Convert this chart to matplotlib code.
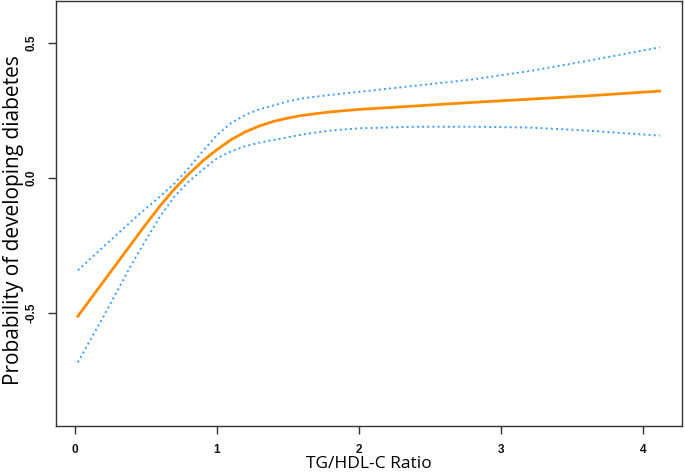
import matplotlib
matplotlib.use("Agg")
import matplotlib.pyplot as plt

# data (TG/HDL-C ratio vs. probability)
ratio = [0.02, 0.2, 0.4, 0.5, 0.6, 0.7, 0.8, 0.9, 1.0, 1.1, 1.2, 1.3, 1.4, 1.5, 1.6,
         1.8, 2.0, 2.4, 2.8, 3.2, 3.6, 4.12]
fit = [-0.513, -0.385, -0.243, -0.172, -0.104, -0.042, 0.013, 0.062, 0.104, 0.141, 0.170,
       0.192, 0.209, 0.221, 0.231, 0.244, 0.253, 0.266, 0.279, 0.291, 0.303, 0.321]
upper = [-0.343, -0.256, -0.160, -0.114, -0.069, -0.022, 0.035, 0.098, 0.158, 0.203, 0.233,
         0.254, 0.268, 0.283, 0.294, 0.307, 0.318, 0.341, 0.364, 0.395, 0.432, 0.483]
lower = [-0.684, -0.515, -0.320, -0.230, -0.143, -0.070, -0.015, 0.030, 0.072, 0.098, 0.117,
         0.130, 0.140, 0.150, 0.160, 0.175, 0.183, 0.189, 0.189, 0.186, 0.175, 0.156]

xticks = [0, 1, 2, 3, 4]
yticks = [-0.5, 0.0, 0.5]

plt.rcParams['font.family'] = ['Open Sans', 'DejaVu Sans']

fig = plt.figure(figsize=(6.85, 4.76), dpi=100)
ax = fig.add_axes([0.0813, 0.105, 0.915, 0.893])

ax.plot(ratio, upper, color='#3a9dff', linestyle=':', linewidth=1.4)
ax.plot(ratio, lower, color='#3a9dff', linestyle=':', linewidth=1.4)
ax.plot(ratio, fit, color='#ff8c00', linewidth=2.0)

ax.set_xlim(-0.136, 4.28)
ax.set_ylim(-0.92, 0.655)

# bold Arial-like tick labels, as in the base R plot
tick_font = dict(family='Liberation Sans', fontsize=8.5, fontweight='bold', color='#111111')
ax.set_xticks(xticks)
ax.set_xticklabels([str(t) for t in xticks], **tick_font)
ax.set_yticks(yticks)
ax.set_yticklabels(['-0.5', '0.0', '0.5'], rotation=90, va='center', **tick_font)
ax.tick_params(axis='x', length=6, width=1, color='#333333', pad=7)
ax.tick_params(axis='y', length=6, width=1, color='#333333', pad=7)

for s in ax.spines.values():
    s.set_linewidth(1.0)
    s.set_color('#333333')

ax.set_xlabel('TG/HDL-C Ratio', fontsize=12.5, labelpad=0)
ax.set_ylabel('Probability of developing diabetes', fontsize=15)
ax.yaxis.set_label_coords(-0.05, 0.485)

fig.savefig('out.png', dpi=100)
